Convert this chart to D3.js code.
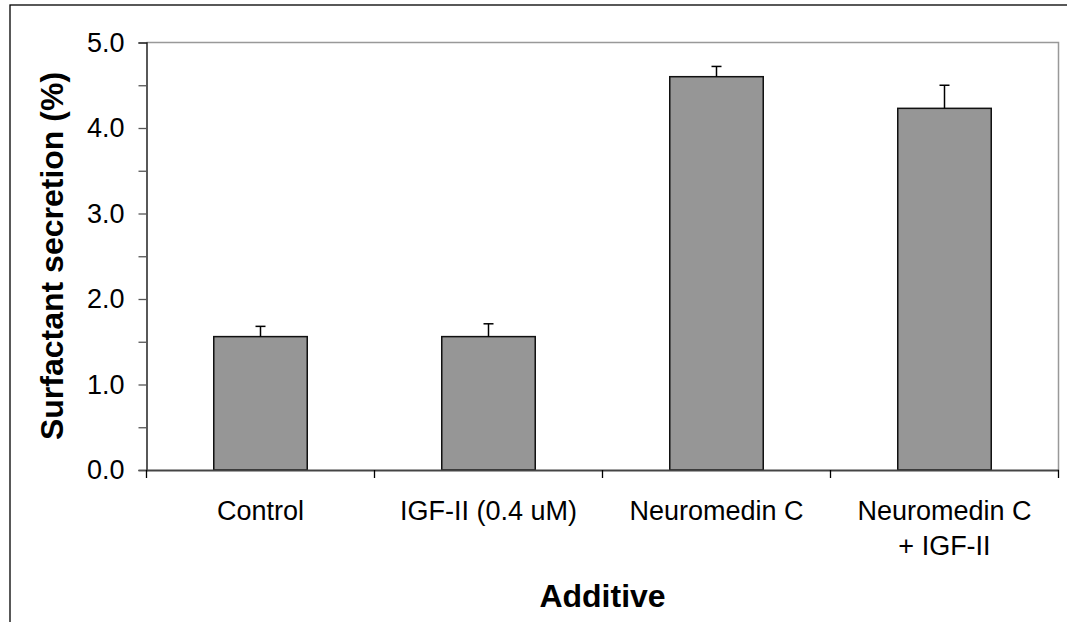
<!DOCTYPE html>
<html>
<head>
<meta charset="utf-8">
<script src="https://cdn.jsdelivr.net/npm/d3@7"></script>
<style>
  html, body { margin: 0; padding: 0; background: #fff; }
  svg { display: block; font-family: "Liberation Sans", Arial, sans-serif; }
</style>
</head>
<body>
<svg id="chart" width="1067" height="622"></svg>
<script>
// Surfactant secretion by additive (mean ± error)
const categories = [["Control"], ["IGF-II (0.4 uM)"], ["Neuromedin C"], ["Neuromedin C", "+ IGF-II"]];
const means = [1.56, 1.56, 4.60, 4.23];
const errors = [0.12, 0.15, 0.12, 0.27];
const yTicks = [0, 0.5, 1, 1.5, 2, 2.5, 3, 3.5, 4, 4.5, 5];
const yLabel = "Surfactant secretion (%)";
const xLabel = "Additive";

const svg = d3.select("#chart");
const W = 1067, H = 622;
const plot = { left: 146.5, top: 42.5, right: 1058.5, bottom: 470 };
const FONT = "Liberation Sans, Arial, sans-serif";

// outer frame (runs off the right and bottom edges of the page)
svg.append("rect")
  .attr("x", 10).attr("y", 5)
  .attr("width", W + 20).attr("height", H + 20)
  .attr("fill", "none").attr("stroke", "#000").attr("stroke-width", 1.3);

const x = d3.scaleBand()
  .domain(d3.range(categories.length))
  .range([plot.left, plot.right])
  .paddingInner(0.59).paddingOuter(0.295);

const xOuter = d3.scaleBand()
  .domain(d3.range(categories.length))
  .range([plot.left, plot.right]);

const y = d3.scaleLinear().domain([0, 5]).range([plot.bottom, plot.top]);

// plot area border (top and right)
svg.append("path")
  .attr("d", `M${plot.left},${plot.top}H${plot.right}V${plot.bottom}`)
  .attr("fill", "none").attr("stroke", "#999").attr("stroke-width", 1.5);

// bars
svg.append("g").selectAll("rect")
  .data(means)
  .join("rect")
  .attr("x", (d, i) => x(i))
  .attr("y", d => y(d))
  .attr("width", x.bandwidth())
  .attr("height", d => y(0) - y(d))
  .attr("fill", "#969696")
  .attr("stroke", "#111")
  .attr("stroke-width", 1.5);

// error bars (upper only)
const eb = svg.append("g").attr("stroke", "#000").attr("stroke-width", 1.5);
means.forEach((m, i) => {
  const cx = x(i) + x.bandwidth() / 2;
  eb.append("line").attr("x1", cx).attr("x2", cx).attr("y1", y(m)).attr("y2", y(m + errors[i]));
  eb.append("line").attr("x1", cx - 5).attr("x2", cx + 5).attr("y1", y(m + errors[i])).attr("y2", y(m + errors[i]));
});

// y axis: ticks every 0.5, labels on whole numbers
const yAxis = svg.append("g")
  .attr("transform", `translate(${plot.left},0)`)
  .call(d3.axisLeft(y).tickValues(yTicks)
    .tickFormat(d => Number.isInteger(d) ? d3.format(".1f")(d) : "")
    .tickSize(8).tickPadding(14));
yAxis.attr("font-family", FONT).attr("font-size", 27);
yAxis.select(".domain").attr("stroke", "#000").attr("stroke-width", 1.3);
yAxis.selectAll(".tick line").attr("stroke", "#555").attr("stroke-width", 1.3);
yAxis.selectAll(".tick text").attr("fill", "#000");

// x axis
const xAxis = svg.append("g")
  .attr("transform", `translate(0,${plot.bottom})`)
  .call(d3.axisBottom(xOuter).tickSize(0).tickFormat(""));
xAxis.select(".domain").attr("stroke", "#444").attr("stroke-width", 2);
// ticks between categories
const bounds = d3.range(categories.length + 1).map(i => i < categories.length ? xOuter(i) : plot.right);
xAxis.selectAll(".sep")
  .data(bounds)
  .join("line")
  .attr("class", "sep")
  .attr("x1", d => d).attr("x2", d => d)
  .attr("y1", 0).attr("y2", 8)
  .attr("stroke", "#000").attr("stroke-width", 1.3);

// category labels
const catG = svg.append("g").attr("font-size", 27).attr("text-anchor", "middle").attr("fill", "#000");
categories.forEach((lines, i) => {
  const cx = xOuter(i) + xOuter.bandwidth() / 2;
  lines.forEach((t, j) => {
    catG.append("text").attr("x", cx).attr("y", 520 + j * 35).text(t);
  });
});

// axis titles
svg.append("text")
  .attr("transform", `translate(63,256) rotate(-90)`)
  .attr("text-anchor", "middle").attr("font-size", 32).attr("font-weight", "bold")
  .text(yLabel);

svg.append("text")
  .attr("x", (plot.left + plot.right) / 2).attr("y", 607)
  .attr("text-anchor", "middle").attr("font-size", 32).attr("font-weight", "bold")
  .text(xLabel);
</script>
</body>
</html>
